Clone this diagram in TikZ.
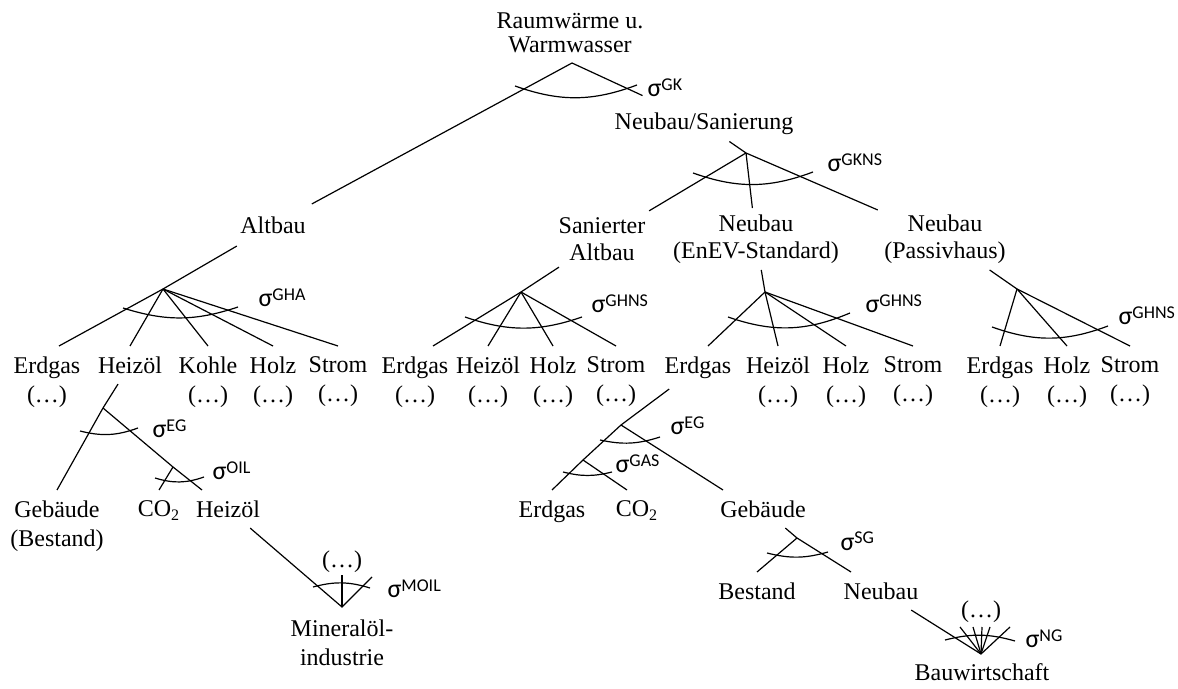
\documentclass[tikz,border=0pt]{standalone}
\usepackage{fontspec}
\setmainfont{Liberation Serif}
\newfontfamily\sigfont{Carlito}
\newcommand{\elas}[1]{{\fontsize{13}{13}\selectfont σ}\raisebox{3pt}{\fontsize{9}{9}\selectfont #1}}

\begin{document}
\begin{tikzpicture}[x=0.5pt, y=-0.5pt, line width=0.6pt,
    every node/.style={font=\fontsize{12}{14.5}\selectfont},
    mid/.style={align=center, inner sep=3pt, font=\fontsize{12}{13.5}\selectfont},
    leaf/.style={anchor=north, align=center, inner sep=5pt},
    etc/.style={inner sep=1pt},
    sig/.style={anchor=base west, inner sep=0pt, font=\sigfont}]
  \useasboundingbox (0,0) rectangle (1178,689);

  % upper levels
  \node[mid, font=\fontsize{12}{12}\selectfont] (root) at (570,33) {Raumwärme u.\\Warmwasser};
  \node[mid] (nbs) at (704,124) {Neubau/Sanierung};
  \node[mid, inner sep=6pt] (alt) at (273,225) {Altbau};
  \node[mid] (san) at (602,239) {Sanierter\\Altbau};
  \node[mid] (enev) at (756,239) {Neubau\\(EnEV-Standard)};
  \node[mid] (pas) at (945,239) {Neubau\\(Passivhaus)};

  % energy carriers
  \node[leaf] (a1) at (47,346) {Erdgas\\(\ldots)};
  \node[leaf] (a2) at (130,346) {Heizöl};
  \node[leaf] (a3) at (208,346) {Kohle\\(\ldots)};
  \node[leaf] (a4) at (273,346) {Holz\\(\ldots)};
  \node[leaf] (a5) at (338,346) {Strom\\(\ldots)};
  \node[leaf] (s1) at (415,346) {Erdgas\\(\ldots)};
  \node[leaf] (s2) at (488,346) {Heizöl\\(\ldots)};
  \node[leaf] (s3) at (553,346) {Holz\\(\ldots)};
  \node[leaf] (s4) at (616,346) {Strom\\(\ldots)};
  \node[leaf] (e1) at (698,346) {Erdgas};
  \node[leaf] (e2) at (778,346) {Heizöl\\(\ldots)};
  \node[leaf] (e3) at (846,346) {Holz\\(\ldots)};
  \node[leaf] (e4) at (913,346) {Strom\\(\ldots)};
  \node[leaf] (p1) at (1000,346) {Erdgas\\(\ldots)};
  \node[leaf] (p2) at (1067,346) {Holz\\(\ldots)};
  \node[leaf] (p3) at (1130,346) {Strom\\(\ldots)};

  % oil branch
  \node[leaf] (geb1) at (57,490) {Gebäude\\(Bestand)};
  \node[leaf] (co2a) at (159,490) {CO\textsubscript{2}};
  \node[leaf] (hoel) at (228,490) {Heizöl};
  \node[etc] (etc1) at (342,562) {(\ldots)};
  \node[align=center] (mol) at (342,643) {Mineralöl-\\industrie};

  % gas branch
  \node[leaf] (erd) at (552,490) {Erdgas};
  \node[leaf] (co2b) at (637,490) {CO\textsubscript{2}};
  \node[leaf] (geb2) at (763,490) {Gebäude};
  \node[leaf] (bes) at (757,572) {Bestand};
  \node[leaf] (nb3) at (881,572) {Neubau};
  \node[etc] (etc2) at (981,612) {(\ldots)};
  \node (bw) at (982,672) {Bauwirtschaft};

  % nests
  \coordinate (gk) at (572,63);
  \coordinate (gkns) at (746,153);
  \coordinate (gha) at (163,289);
  \coordinate (ghns1) at (521,292);
  \coordinate (ghns2) at (765,292);
  \coordinate (ghns3) at (1017,289);
  \coordinate (eg1) at (103,408);
  \coordinate (oil) at (173,467);
  \coordinate (moil) at (342,607);
  \coordinate (moilr) at (372,577);
  \coordinate (eg2) at (621,425);
  \coordinate (gas) at (583,460);
  \coordinate (sg) at (797,538);
  \coordinate (ng) at (981,654);

  \draw (gk) -- (alt);
  \draw[shorten >=13pt] (gk) -- (nbs);
  \draw (nbs) -- (gkns) -- (pas);
  \draw (gkns) -- (san);
  \draw (gkns) -- (enev);

  \draw (alt) -- (gha) -- ([xshift=6pt]a1.north);
  \foreach \n in {a2,a3,a4,a5}
    \draw (gha) -- (\n.north);
  \draw (san) -- (ghns1) -- ([xshift=9pt]s1.north);
  \foreach \n in {s2,s3,s4}
    \draw (ghns1) -- (\n.north);
  \draw (enev) -- (ghns2) -- (e2.north);
  \draw (ghns2) -- ([xshift=5pt]e1.north);
  \foreach \n in {e3,e4}
    \draw (ghns2) -- (\n.north);
  \draw (pas) -- (ghns3) -- (p3.north);
  \foreach \n in {p1,p2}
    \draw (ghns3) -- (\n.north);

  \draw (a2) -- (eg1) -- (geb1.north);
  \draw (eg1) -- (oil) -- ([xshift=-13pt]hoel.north);
  \draw (oil) -- (co2a.north);
  \draw (hoel) -- (moil) -- (moilr);
  \draw (moil) -- (etc1);

  \draw (e1) -- (eg2) -- (gas) -- (erd.north);
  \draw (eg2) -- ([xshift=-20pt]geb2.north);
  \draw (gas) -- ([xshift=-5pt]co2b.north);
  \draw (geb2) -- (sg) -- ([xshift=-15pt]nb3.north);
  \draw (sg) -- (bes.north);
  \draw (nb3) -- (ng);
  \foreach \x [count=\i] in {960,973,982,990,1010} {
    \coordinate (ng\i) at (\x,627);
    \draw (ng) -- (ng\i);
  }

  % elasticity arcs
  \draw (515,86) to[bend right=20] (637,85);
  \draw (693,173) to[bend right=20] (813,172);
  \draw (123,308) to[bend right=18] (238,307);
  \draw (465,317) to[bend right=19] (582,317);
  \draw (728,317) to[bend right=21] (850,313);
  \draw (992,327) to[bend right=20] (1108,326);
  \draw (80,431) to[bend right=17] (138,428);
  \draw (155,478) to[bend right=18] (204,477);
  \draw (313,587) to[bend left=16] (370,588);
  \draw (600,440) to[bend right=15] (660,437);
  \draw (563,472) to[bend right=14] (612,472);
  \draw (767,553) to[bend right=15] (828,552);
  \draw (945,640) to[bend left=15] (1015,641);

  \node[sig] (sgk) at (647,97) {\elas{GK}};
  \node[sig] (sgkns) at (827,172) {\elas{GKNS}};
  \node[sig] (sgha) at (258,307) {\elas{GHA}};
  \node[sig] (sghns1) at (591,313) {\elas{GHNS}};
  \node[sig] (sghns2) at (865,313) {\elas{GHNS}};
  \node[sig] (sghns3) at (1118,325) {\elas{GHNS}};
  \node[sig] (seg1) at (152,438) {\elas{EG}};
  \node[sig] (soil) at (212,480) {\elas{OIL}};
  \node[sig] (smoil) at (387,597) {\elas{MOIL}};
  \node[sig] (seg2) at (670,435) {\elas{EG}};
  \node[sig] (sgas) at (615,473) {\elas{GAS}};
  \node[sig] (ssg) at (840,550) {\elas{SG}};
  \node[sig] (sng) at (1025,647) {\elas{NG}};
\end{tikzpicture}
\end{document}
